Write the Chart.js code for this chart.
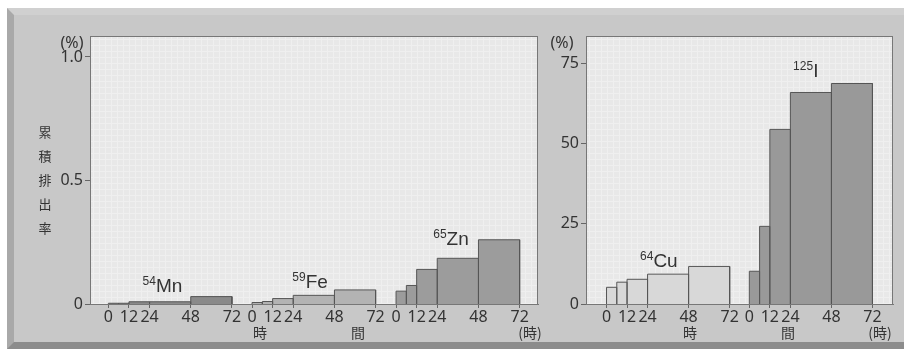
<!DOCTYPE html>
<html>
<head>
<meta charset="utf-8">
<script src="https://cdn.jsdelivr.net/npm/chart.js@4/dist/chart.umd.min.js"></script>
<style>
  html, body { margin: 0; padding: 0; background: #fff; }
  body { width: 904px; height: 349px; position: relative; overflow: hidden;
         font-family: "Noto Sans", "Noto Sans CJK JP", sans-serif; color: #333; }
  #panel { position: absolute; left: 7px; top: 8px; width: 890px; height: 327px;
           background: #c8c8c8;
           border-left: 7px solid #a9a9a9; border-top: 7px solid #d0d0d0;
           border-bottom: 7px solid #8c8c8c; border-right: 0; }
  canvas { position: absolute; top: 0; }
  #cLeft { left: 0; }
  #cRight { left: 548px; }
  .t { position: absolute; font-size: 16px; line-height: 1; transform: translate(-50%, -50%); white-space: nowrap; }
  .jp { font-family: "Noto Sans CJK JP", sans-serif; font-size: 14px; }
  #ytitle { position: absolute; left: 37px; top: 120px; width: 16px; font-family: "Noto Sans CJK JP", sans-serif;
            font-size: 13px; line-height: 24px; text-align: center; }
</style>
</head>
<body>
<div id="panel"></div>
<canvas id="cLeft" width="548" height="349"></canvas>
<canvas id="cRight" width="356" height="349"></canvas>

<div class="t" style="left:72px; top:42px;">(%)</div>
<div class="t" style="left:562px; top:42px;">(%)</div>
<div id="ytitle">累<br>積<br>排<br>出<br>率</div>
<div class="t jp" style="left:260px; top:332px;">時</div>
<div class="t jp" style="left:358px; top:332px;">間</div>
<div class="t jp" style="left:530px; top:332px;">(時)</div>
<div class="t jp" style="left:690px; top:332px;">時</div>
<div class="t jp" style="left:788px; top:332px;">間</div>
<div class="t jp" style="left:880px; top:332px;">(時)</div>

<script>
// Collection periods (hours after dosing): bin edges and labelled hours
const binEdges = [0, 6, 12, 24, 48, 72];
const hourTicks = [0, 12, 24, 48, 72];

// Cumulative excretion (%) at the end of each period
const mn54 = [0.003, 0.003, 0.009, 0.009, 0.030];
const fe59 = [0.006, 0.010, 0.022, 0.035, 0.057];
const zn65 = [0.052, 0.075, 0.140, 0.185, 0.260];
const cu64 = [5.2, 6.8, 7.7, 9.3, 11.7];
const i125 = [10.2, 24.2, 54.4, 65.9, 68.7];

// y-axis tick values
const leftYTicks = [0, 0.5, 1.0];
const rightYTicks = [0, 25, 50, 75];

const FONT = '"Noto Sans", "Noto Sans CJK JP", sans-serif';
const TAG_FONT = '"Liberation Sans", "Noto Sans", sans-serif';

// outline of adjacent bars as one closed step path, offset along the time axis
function barPath(values, start) {
  const pts = [];
  values.forEach((v, i) => {
    const a = start + binEdges[i], b = start + binEdges[i + 1];
    pts.push({x: a, y: 0}, {x: a, y: v}, {x: b, y: v}, {x: b, y: 0});
  });
  return pts;
}

function series(values, start, fillColor, tag) {
  return {
    data: barPath(values, start),
    backgroundColor: fillColor,
    borderColor: '#555',
    borderWidth: 1,
    fill: 'origin',
    pointRadius: 0,
    tension: 0,
    tag: Object.assign({start: start}, tag)
  };
}

// plot-area background with a fine light grid, and full frame
const plotFrame = {
  id: 'plotFrame',
  beforeDatasetsDraw(chart) {
    const {ctx, chartArea: a} = chart;
    ctx.save();
    ctx.fillStyle = '#e8e8e8';
    ctx.fillRect(a.left, a.top, a.right - a.left, a.bottom - a.top);
    ctx.strokeStyle = '#efefef';
    ctx.lineWidth = 1;
    ctx.beginPath();
    for (let x = a.left + 3.5; x < a.right; x += 6) { ctx.moveTo(x, a.top); ctx.lineTo(x, a.bottom); }
    for (let y = a.top + 3.5; y < a.bottom; y += 6) { ctx.moveTo(a.left, y); ctx.lineTo(a.right, y); }
    ctx.stroke();
    ctx.restore();
  },
  afterDraw(chart) {
    const {ctx, chartArea: a} = chart;
    ctx.save();
    ctx.strokeStyle = '#777';
    ctx.lineWidth = 1;
    ctx.strokeRect(Math.round(a.left) + 0.5, Math.round(a.top) + 0.5,
                   Math.round(a.right - a.left) - 1, Math.round(a.bottom - a.top));
    ctx.restore();
  }
};

// nuclide name with mass number as superscript
const nuclideTags = {
  id: 'nuclideTags',
  afterDatasetsDraw(chart) {
    const {ctx} = chart;
    const xs = chart.scales.x, ys = chart.scales.y;
    chart.data.datasets.forEach(ds => {
      const t = ds.tag;
      const cx = xs.getPixelForValue(t.start + t.at[0]);
      const by = ys.getPixelForValue(t.at[1]);
      ctx.save();
      ctx.fillStyle = '#333';
      ctx.textBaseline = 'alphabetic';
      ctx.font = '12px ' + TAG_FONT;
      const wm = ctx.measureText(t.mass).width;
      ctx.font = '19px ' + TAG_FONT;
      const ws = ctx.measureText(t.sym).width;
      const x = cx - (wm + ws) / 2;
      ctx.font = '12px ' + TAG_FONT;
      ctx.fillText(t.mass, x, by - 7);
      ctx.font = '19px ' + TAG_FONT;
      ctx.fillText(t.sym, x + wm, by);
      ctx.restore();
    });
  }
};

function makeChart(id, datasets, groupStarts, xMax, yMax, yTicks, yFmt, yWidth, padRight) {
  const tickVals = [], tickLabels = [];
  groupStarts.forEach(s => hourTicks.forEach(h => { tickVals.push(s + h); tickLabels.push(String(h)); }));
  return new Chart(document.getElementById(id), {
    type: 'line',
    data: {datasets},
    plugins: [plotFrame, nuclideTags],
    options: {
      responsive: false,
      animation: false,
      events: [],
      layout: {padding: {top: 36, left: 0, right: padRight, bottom: 15}},
      plugins: {legend: {display: false}, tooltip: {enabled: false}},
      scales: {
        x: {
          type: 'linear', min: 0, max: xMax,
          afterBuildTicks: sc => { sc.ticks = tickVals.map(v => ({value: v})); },
          afterFit: sc => { sc.height = 30; },
          ticks: {autoSkip: false, maxRotation: 0, padding: 1, color: '#333',
                  font: {family: FONT, size: 16, lineHeight: 1.05},
                  callback: (v, i) => tickLabels[i]},
          grid: {display: true, drawOnChartArea: false, drawTicks: true, tickLength: 4, color: '#666'},
          border: {display: true, color: '#777'}
        },
        y: {
          min: 0, max: yMax,
          afterBuildTicks: sc => { sc.ticks = yTicks.map(v => ({value: v})); },
          afterFit: sc => { sc.width = yWidth; },
          ticks: {padding: 2, color: '#333', font: {family: FONT, size: 16},
                  callback: v => yFmt(v)},
          grid: {display: true, drawOnChartArea: false, drawTicks: true, tickLength: 5, color: '#666'},
          border: {display: true, color: '#777'}
        }
      }
    }
  });
}

const leftStarts = [10.7, 94.4, 178.3];
makeChart('cLeft', [
  series(mn54, leftStarts[0], '#8a8a8a', {mass: '54', sym: 'Mn', at: [31.5, 0.048]}),
  series(fe59, leftStarts[1], '#b3b3b3', {mass: '59', sym: 'Fe', at: [33.8, 0.063]}),
  series(zn65, leftStarts[2], '#9c9c9c', {mass: '65', sym: 'Zn', at: [32, 0.237]})
], leftStarts, 261, 1.085, leftYTicks, v => (v === 0 ? '0' : v.toFixed(1)), 90, 10);

const rightStarts = [12, 95.5];
makeChart('cRight', [
  series(cu64, rightStarts[0], '#d8d8d8', {mass: '64', sym: 'Cu', at: [30.6, 11.5]}),
  series(i125, rightStarts[1], '#999999', {mass: '125', sym: 'I', at: [33, 70.7]})
], rightStarts, 179.5, 83.5, rightYTicks, v => String(v), 38, 11);
</script>
</body>
</html>
